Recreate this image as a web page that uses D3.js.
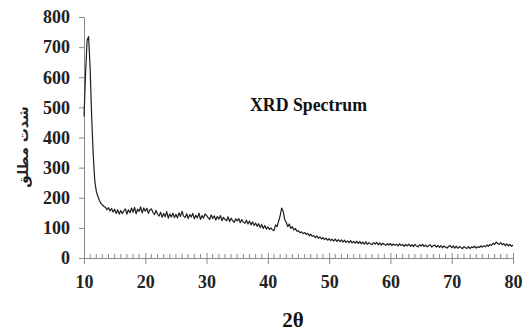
<!DOCTYPE html>
<html>
  <head>
    <meta charset="utf-8">
    <title>XRD spectrum</title>
    <style>
      html, body {
        padding: 0;
        margin: 0;
        background: #fff;
      }
      svg {
        display: block;
      }
      .serif, .tick text {
        font-family: "Liberation Serif", "Times New Roman", Times, "DejaVu Serif", serif !important;
        font-weight: bold;
      }
      .tick text {
        font-size: 18px;
        fill: #222;
      }
    </style>
  </head>
<body>

<svg width="528" height="331"></svg>

<script src="https://cdn.jsdelivr.net/npm/d3@7"></script>
<script>

// 2theta sampling of the scan (degrees)
const startAngle = 10;
const stepAngle = 0.25;

// intensity, one value every 0.25 deg from 10 to 80
const intensity = [
  470, 610, 722, 735, 630, 470, 345, 258, 222, 205,
  192, 182, 176, 171, 168, 160, 167, 156, 164, 153,
  162, 148, 160, 146, 158, 147, 156, 163, 146, 160,
  150, 166, 152, 168, 147, 162, 155, 170, 150, 166,
  155, 165, 148, 160, 163, 151, 144, 158, 146, 139,
  152, 135, 148, 137, 154, 132, 146, 136, 149, 134,
  145, 133, 150, 138, 155, 139, 134, 147, 131, 144,
  136, 148, 130, 142, 133, 149, 128, 141, 132, 146,
  141, 134, 128, 143, 131, 140, 126, 138, 129, 141,
  124, 135, 128, 123, 137, 121, 132, 124, 118, 130,
  123, 131, 117, 128, 119, 115, 126, 113, 123, 110,
  120, 108, 116, 105, 114, 101, 111, 98, 108, 96,
  103, 95, 100, 93, 91, 110, 104, 122, 140, 166,
  155, 128, 118, 104, 113, 98, 104, 93, 98, 89,
  90, 84, 87, 81, 85, 78, 82, 74, 79, 72,
  74, 68, 73, 65, 70, 63, 68, 61, 66, 59,
  64, 58, 62, 56, 63, 55, 61, 54, 60, 53,
  59, 52, 57, 51, 58, 50, 55, 49, 56, 48,
  55, 47, 53, 46, 54, 45, 51, 47, 44, 51,
  46, 52, 44, 50, 43, 49, 45, 42, 48, 43,
  48, 41, 47, 42, 46, 40, 47, 41, 45, 39,
  45, 40, 46, 39, 44, 38, 45, 40, 37, 44,
  40, 45, 38, 43, 37, 42, 44, 36, 41, 43,
  36, 42, 35, 41, 34, 40, 36, 33, 39, 41,
  34, 40, 33, 39, 32, 38, 35, 31, 38, 34,
  32, 38, 31, 37, 34, 39, 33, 38, 35, 40,
  36, 41, 37, 43, 39, 45, 42, 49, 45, 53,
  48, 45, 51, 44, 48, 41, 47, 40, 45, 39,
  43
];

const xTicks = [10, 20, 30, 40, 50, 60, 70, 80];
const yTicks = [0, 100, 200, 300, 400, 500, 600, 700, 800];

const titleText = "XRD Spectrum";
const xLabel = "2θ";
const yLabel = "شدت مطلق";

const svg = d3.select('svg');

const Xscale = d3.scaleLinear()
                .domain([10, 80])
                .range([84, 513]);

const Yscale = d3.scaleLinear()
                .domain([0, 800])
                .range([258, 17]);

const axisColor = '#8a8a8a';

// y axis
const yAxis = svg.append('g')
    .attr('transform', 'translate(84,0)')
    .call(d3.axisLeft(Yscale)
            .tickValues(yTicks)
            .tickSizeOuter(0)
            .tickSize(5)
            .tickPadding(9));
yAxis.attr('font-family', null).attr('font-size', null);
yAxis.select('.domain').attr('stroke', axisColor);
yAxis.selectAll('.tick line').attr('stroke', axisColor);

// x axis, major ticks cross the line
const xAxis = svg.append('g')
    .attr('transform', 'translate(0,258)')
    .call(d3.axisBottom(Xscale)
            .tickValues(xTicks)
            .tickSizeOuter(0)
            .tickSize(6)
            .tickPadding(11));
xAxis.attr('font-family', null).attr('font-size', null);
xAxis.select('.domain').attr('stroke', axisColor);
xAxis.selectAll('.tick line')
     .attr('y1', -5)
     .attr('stroke', axisColor);

// minor ticks every degree, pointing up
xAxis.selectAll('line.minor')
     .data(d3.range(11, 80).filter(d => d % 10 !== 0))
     .enter()
     .append('line')
     .attr('class', 'minor')
     .attr('x1', d => Xscale(d))
     .attr('x2', d => Xscale(d))
     .attr('y1', 0)
     .attr('y2', -4)
     .attr('stroke', axisColor);

// spectrum line
const line = d3.line()
    .x((d, i) => Xscale(startAngle + i * stepAngle))
    .y(d => Yscale(d));

svg.append('path')
   .datum(intensity)
   .attr('d', line)
   .attr('fill', 'none')
   .attr('stroke', '#1e1e1e')
   .attr('stroke-width', 1.2)
   .attr('stroke-linejoin', 'round');

// title inside plot
svg.append('text')
   .attr('class', 'serif')
   .attr('x', 250)
   .attr('y', 111)
   .attr('textLength', 117)
   .attr('lengthAdjust', 'spacingAndGlyphs')
   .style('font-size', '19px')
   .style('fill', '#111')
   .text(titleText);

// x axis label
svg.append('text')
   .attr('class', 'serif')
   .attr('x', 293)
   .attr('y', 327)
   .attr('text-anchor', 'middle')
   .style('font-size', '21px')
   .style('fill', '#111')
   .text(xLabel);

// y axis label (Persian)
svg.append('text')
   .attr('transform', 'translate(28,147) rotate(-90)')
   .attr('text-anchor', 'middle')
   .style('font-family', '"DejaVu Sans", sans-serif')
   .style('font-weight', 'bold')
   .style('font-size', '14px')
   .style('fill', '#222')
   .text(yLabel);

</script>

</body>
</html>
